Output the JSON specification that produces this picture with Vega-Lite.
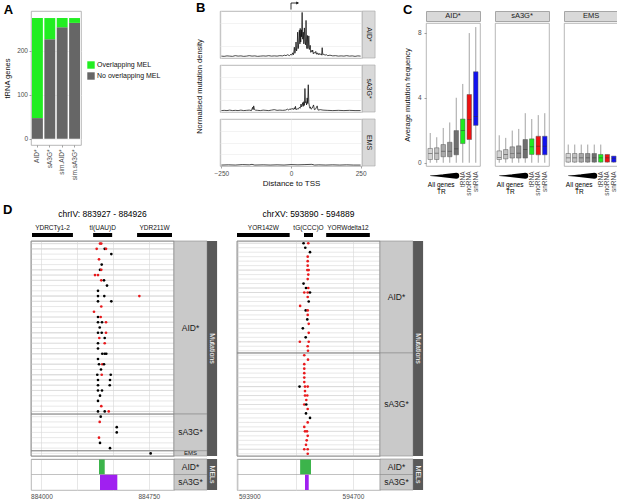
{
  "$schema": "https://vega.github.io/schema/vega-lite/v6.json",
  "description": "Multi-panel figure: tRNA genes overlapping MELs, mutation density around TSS, mutation frequency boxplots and two example loci.",
  "background": "white",
  "padding": {"left": 3, "top": 1, "right": 0, "bottom": 0},
  "config": {
    "font": "Liberation Sans",
    "view": {"stroke": "#a6a6a6", "strokeWidth": 0.8},
    "axis": {
      "labelFontSize": 6.5, "labelColor": "#4d4d4d", "titleFontSize": 7.5, "titleFontWeight": "normal",
      "titleColor": "#111111", "domain": false, "tickColor": "#666666", "tickSize": 2, "tickWidth": 0.6,
      "gridColor": "#ebebeb", "gridWidth": 0.6, "labelPadding": 1.5, "titlePadding": 2, "minExtent": 0
    },
    "title": {"fontSize": 13, "fontWeight": "bold", "anchor": "start", "frame": "bounds", "color": "#000000"},
    "legend": {"labelFontSize": 7, "labelColor": "#111111", "padding": 0}
  },
  "datasets": {
    "trna": [
      {"s": "AID*", "type": "No overlapping MEL", "n": 47},
      {"s": "AID*", "type": "Overlapping MEL", "n": 227},
      {"s": "sA3G*", "type": "No overlapping MEL", "n": 226},
      {"s": "sA3G*", "type": "Overlapping MEL", "n": 48},
      {"s": "sim.AID*", "type": "No overlapping MEL", "n": 253},
      {"s": "sim.AID*", "type": "Overlapping MEL", "n": 21},
      {"s": "sim.sA3G*", "type": "No overlapping MEL", "n": 263},
      {"s": "sim.sA3G*", "type": "Overlapping MEL", "n": 11}
    ],
    "density": [
      {"g": "AID*", "d": -250, "v": 0.04}, {"g": "AID*", "d": -240, "v": 0.035}, {"g": "AID*", "d": -230, "v": 0.045},
      {"g": "AID*", "d": -220, "v": 0.04}, {"g": "AID*", "d": -210, "v": 0.035}, {"g": "AID*", "d": -200, "v": 0.05},
      {"g": "AID*", "d": -190, "v": 0.04}, {"g": "AID*", "d": -180, "v": 0.045}, {"g": "AID*", "d": -170, "v": 0.035},
      {"g": "AID*", "d": -160, "v": 0.04}, {"g": "AID*", "d": -150, "v": 0.05}, {"g": "AID*", "d": -140, "v": 0.04},
      {"g": "AID*", "d": -130, "v": 0.045}, {"g": "AID*", "d": -120, "v": 0.035}, {"g": "AID*", "d": -110, "v": 0.04},
      {"g": "AID*", "d": -100, "v": 0.045}, {"g": "AID*", "d": -90, "v": 0.04}, {"g": "AID*", "d": -80, "v": 0.05},
      {"g": "AID*", "d": -70, "v": 0.04}, {"g": "AID*", "d": -60, "v": 0.045}, {"g": "AID*", "d": -50, "v": 0.04},
      {"g": "AID*", "d": -40, "v": 0.05}, {"g": "AID*", "d": -30, "v": 0.045}, {"g": "AID*", "d": -24, "v": 0.06},
      {"g": "AID*", "d": -18, "v": 0.05}, {"g": "AID*", "d": -12, "v": 0.07}, {"g": "AID*", "d": -6, "v": 0.05},
      {"g": "AID*", "d": 0, "v": 0.08}, {"g": "AID*", "d": 3, "v": 0.06}, {"g": "AID*", "d": 6, "v": 0.11},
      {"g": "AID*", "d": 9, "v": 0.07}, {"g": "AID*", "d": 12, "v": 0.23}, {"g": "AID*", "d": 14, "v": 0.1},
      {"g": "AID*", "d": 16, "v": 0.16}, {"g": "AID*", "d": 18, "v": 0.34}, {"g": "AID*", "d": 20, "v": 0.15},
      {"g": "AID*", "d": 22, "v": 0.22}, {"g": "AID*", "d": 24, "v": 0.55}, {"g": "AID*", "d": 26, "v": 0.2},
      {"g": "AID*", "d": 28, "v": 0.32}, {"g": "AID*", "d": 30, "v": 0.59}, {"g": "AID*", "d": 32, "v": 0.3},
      {"g": "AID*", "d": 33, "v": 0.63}, {"g": "AID*", "d": 35, "v": 0.34}, {"g": "AID*", "d": 37, "v": 0.6},
      {"g": "AID*", "d": 38, "v": 0.45}, {"g": "AID*", "d": 40, "v": 0.97}, {"g": "AID*", "d": 42, "v": 0.4},
      {"g": "AID*", "d": 44, "v": 0.55}, {"g": "AID*", "d": 46, "v": 0.3}, {"g": "AID*", "d": 48, "v": 0.64},
      {"g": "AID*", "d": 50, "v": 0.35}, {"g": "AID*", "d": 52, "v": 0.28}, {"g": "AID*", "d": 54, "v": 0.8},
      {"g": "AID*", "d": 56, "v": 0.3}, {"g": "AID*", "d": 57, "v": 0.2}, {"g": "AID*", "d": 59, "v": 0.48},
      {"g": "AID*", "d": 61, "v": 0.2}, {"g": "AID*", "d": 62, "v": 0.25}, {"g": "AID*", "d": 64, "v": 0.47},
      {"g": "AID*", "d": 66, "v": 0.18}, {"g": "AID*", "d": 68, "v": 0.22}, {"g": "AID*", "d": 69, "v": 0.27},
      {"g": "AID*", "d": 71, "v": 0.12}, {"g": "AID*", "d": 73, "v": 0.16}, {"g": "AID*", "d": 76, "v": 0.13},
      {"g": "AID*", "d": 78, "v": 0.17}, {"g": "AID*", "d": 80, "v": 0.09}, {"g": "AID*", "d": 83, "v": 0.12},
      {"g": "AID*", "d": 86, "v": 0.1}, {"g": "AID*", "d": 89, "v": 0.14}, {"g": "AID*", "d": 92, "v": 0.08},
      {"g": "AID*", "d": 95, "v": 0.11}, {"g": "AID*", "d": 98, "v": 0.07}, {"g": "AID*", "d": 101, "v": 0.1},
      {"g": "AID*", "d": 104, "v": 0.07}, {"g": "AID*", "d": 107, "v": 0.09}, {"g": "AID*", "d": 110, "v": 0.06},
      {"g": "AID*", "d": 112, "v": 0.22}, {"g": "AID*", "d": 114, "v": 0.07}, {"g": "AID*", "d": 118, "v": 0.08},
      {"g": "AID*", "d": 122, "v": 0.06}, {"g": "AID*", "d": 127, "v": 0.07}, {"g": "AID*", "d": 132, "v": 0.05},
      {"g": "AID*", "d": 140, "v": 0.06}, {"g": "AID*", "d": 150, "v": 0.045}, {"g": "AID*", "d": 160, "v": 0.05},
      {"g": "AID*", "d": 170, "v": 0.04}, {"g": "AID*", "d": 180, "v": 0.045}, {"g": "AID*", "d": 190, "v": 0.04},
      {"g": "AID*", "d": 200, "v": 0.05}, {"g": "AID*", "d": 210, "v": 0.04}, {"g": "AID*", "d": 220, "v": 0.045},
      {"g": "AID*", "d": 230, "v": 0.035}, {"g": "AID*", "d": 240, "v": 0.045}, {"g": "AID*", "d": 250, "v": 0.04},
      {"g": "sA3G*", "d": -250, "v": 0.03}, {"g": "sA3G*", "d": -240, "v": 0.035}, {"g": "sA3G*", "d": -230, "v": 0.03},
      {"g": "sA3G*", "d": -220, "v": 0.04}, {"g": "sA3G*", "d": -210, "v": 0.03}, {"g": "sA3G*", "d": -200, "v": 0.035},
      {"g": "sA3G*", "d": -190, "v": 0.03}, {"g": "sA3G*", "d": -180, "v": 0.04}, {"g": "sA3G*", "d": -170, "v": 0.03},
      {"g": "sA3G*", "d": -160, "v": 0.035}, {"g": "sA3G*", "d": -150, "v": 0.04}, {"g": "sA3G*", "d": -142, "v": 0.03},
      {"g": "sA3G*", "d": -138, "v": 0.1}, {"g": "sA3G*", "d": -136, "v": 0.05}, {"g": "sA3G*", "d": -134, "v": 0.13},
      {"g": "sA3G*", "d": -131, "v": 0.05}, {"g": "sA3G*", "d": -128, "v": 0.04}, {"g": "sA3G*", "d": -120, "v": 0.035},
      {"g": "sA3G*", "d": -110, "v": 0.03}, {"g": "sA3G*", "d": -100, "v": 0.04}, {"g": "sA3G*", "d": -90, "v": 0.035},
      {"g": "sA3G*", "d": -80, "v": 0.03}, {"g": "sA3G*", "d": -70, "v": 0.04}, {"g": "sA3G*", "d": -60, "v": 0.05},
      {"g": "sA3G*", "d": -50, "v": 0.035}, {"g": "sA3G*", "d": -40, "v": 0.04}, {"g": "sA3G*", "d": -30, "v": 0.035},
      {"g": "sA3G*", "d": -20, "v": 0.04}, {"g": "sA3G*", "d": -12, "v": 0.06}, {"g": "sA3G*", "d": -8, "v": 0.04},
      {"g": "sA3G*", "d": -4, "v": 0.07}, {"g": "sA3G*", "d": 0, "v": 0.05}, {"g": "sA3G*", "d": 4, "v": 0.08},
      {"g": "sA3G*", "d": 8, "v": 0.05}, {"g": "sA3G*", "d": 12, "v": 0.09}, {"g": "sA3G*", "d": 14, "v": 0.06},
      {"g": "sA3G*", "d": 16, "v": 0.12}, {"g": "sA3G*", "d": 18, "v": 0.05}, {"g": "sA3G*", "d": 22, "v": 0.07},
      {"g": "sA3G*", "d": 26, "v": 0.06}, {"g": "sA3G*", "d": 30, "v": 0.1}, {"g": "sA3G*", "d": 33, "v": 0.08},
      {"g": "sA3G*", "d": 36, "v": 0.17}, {"g": "sA3G*", "d": 38, "v": 0.11}, {"g": "sA3G*", "d": 40, "v": 0.14},
      {"g": "sA3G*", "d": 42, "v": 0.2}, {"g": "sA3G*", "d": 44, "v": 0.12}, {"g": "sA3G*", "d": 46, "v": 0.22},
      {"g": "sA3G*", "d": 48, "v": 0.14}, {"g": "sA3G*", "d": 50, "v": 0.5}, {"g": "sA3G*", "d": 52, "v": 0.2},
      {"g": "sA3G*", "d": 54, "v": 0.22}, {"g": "sA3G*", "d": 56, "v": 0.15}, {"g": "sA3G*", "d": 58, "v": 0.3},
      {"g": "sA3G*", "d": 60, "v": 0.18}, {"g": "sA3G*", "d": 62, "v": 0.58}, {"g": "sA3G*", "d": 64, "v": 0.2},
      {"g": "sA3G*", "d": 66, "v": 0.12}, {"g": "sA3G*", "d": 68, "v": 0.08}, {"g": "sA3G*", "d": 70, "v": 0.11},
      {"g": "sA3G*", "d": 72, "v": 0.06}, {"g": "sA3G*", "d": 76, "v": 0.08}, {"g": "sA3G*", "d": 81, "v": 0.15},
      {"g": "sA3G*", "d": 84, "v": 0.05}, {"g": "sA3G*", "d": 88, "v": 0.06}, {"g": "sA3G*", "d": 94, "v": 0.13},
      {"g": "sA3G*", "d": 97, "v": 0.04}, {"g": "sA3G*", "d": 105, "v": 0.05}, {"g": "sA3G*", "d": 115, "v": 0.04},
      {"g": "sA3G*", "d": 130, "v": 0.035}, {"g": "sA3G*", "d": 150, "v": 0.03}, {"g": "sA3G*", "d": 170, "v": 0.035},
      {"g": "sA3G*", "d": 190, "v": 0.03}, {"g": "sA3G*", "d": 210, "v": 0.035}, {"g": "sA3G*", "d": 230, "v": 0.03},
      {"g": "sA3G*", "d": 250, "v": 0.03},
      {"g": "EMS", "d": -250, "v": 0.02}, {"g": "EMS", "d": -225, "v": 0.025}, {"g": "EMS", "d": -200, "v": 0.02},
      {"g": "EMS", "d": -175, "v": 0.03}, {"g": "EMS", "d": -150, "v": 0.025}, {"g": "EMS", "d": -140, "v": 0.035},
      {"g": "EMS", "d": -130, "v": 0.02}, {"g": "EMS", "d": -100, "v": 0.025}, {"g": "EMS", "d": -75, "v": 0.02},
      {"g": "EMS", "d": -50, "v": 0.025}, {"g": "EMS", "d": -25, "v": 0.02}, {"g": "EMS", "d": 0, "v": 0.03},
      {"g": "EMS", "d": 25, "v": 0.025}, {"g": "EMS", "d": 50, "v": 0.03}, {"g": "EMS", "d": 75, "v": 0.035},
      {"g": "EMS", "d": 85, "v": 0.02}, {"g": "EMS", "d": 100, "v": 0.025}, {"g": "EMS", "d": 125, "v": 0.02},
      {"g": "EMS", "d": 150, "v": 0.025}, {"g": "EMS", "d": 175, "v": 0.02}, {"g": "EMS", "d": 200, "v": 0.025},
      {"g": "EMS", "d": 225, "v": 0.02}, {"g": "EMS", "d": 250, "v": 0.02}
    ],
    "box": [
      {"g": "AID*", "cat": "TR1", "lo": 0, "q1": 0.2, "med": 0.57, "q3": 0.88, "hi": 1.83},
      {"g": "AID*", "cat": "TR2", "lo": 0, "q1": 0.2, "med": 0.59, "q3": 0.92, "hi": 1.57},
      {"g": "AID*", "cat": "TR3", "lo": 0, "q1": 0.37, "med": 0.71, "q3": 1.12, "hi": 2.14},
      {"g": "AID*", "cat": "TR4", "lo": 0, "q1": 0.37, "med": 0.71, "q3": 1.26, "hi": 2.48},
      {"g": "AID*", "cat": "TR5", "lo": 0, "q1": 0.49, "med": 0.86, "q3": 1.98, "hi": 4.0},
      {"g": "AID*", "cat": "tRNA", "lo": 0, "q1": 1.18, "med": 1.98, "q3": 2.69, "hi": 4.85},
      {"g": "AID*", "cat": "snoRNA", "lo": 0, "q1": 1.43, "med": 2.65, "q3": 4.2, "hi": 7.98},
      {"g": "AID*", "cat": "snRNA", "lo": 0, "q1": 2.3, "med": 2.85, "q3": 5.6, "hi": 8.35},
      {"g": "sA3G*", "cat": "TR1", "lo": 0, "q1": 0.2, "med": 0.33, "q3": 0.73, "hi": 1.69},
      {"g": "sA3G*", "cat": "TR2", "lo": 0, "q1": 0.24, "med": 0.51, "q3": 0.81, "hi": 1.53},
      {"g": "sA3G*", "cat": "TR3", "lo": 0, "q1": 0.29, "med": 0.57, "q3": 0.98, "hi": 1.98},
      {"g": "sA3G*", "cat": "TR4", "lo": 0, "q1": 0.29, "med": 0.59, "q3": 1.04, "hi": 2.08},
      {"g": "sA3G*", "cat": "TR5", "lo": 0, "q1": 0.29, "med": 0.81, "q3": 1.43, "hi": 3.05},
      {"g": "sA3G*", "cat": "tRNA", "lo": 0, "q1": 0.51, "med": 0.98, "q3": 1.47, "hi": 2.69},
      {"g": "sA3G*", "cat": "snoRNA", "lo": 0, "q1": 0.49, "med": 1.02, "q3": 1.63, "hi": 2.93},
      {"g": "sA3G*", "cat": "snRNA", "lo": 0, "q1": 0.49, "med": 1.02, "q3": 1.63, "hi": 3.05},
      {"g": "EMS", "cat": "TR1", "lo": 0, "q1": 0.04, "med": 0.3, "q3": 0.57, "hi": 1.12},
      {"g": "EMS", "cat": "TR2", "lo": 0, "q1": 0.04, "med": 0.3, "q3": 0.57, "hi": 1.12},
      {"g": "EMS", "cat": "TR3", "lo": 0, "q1": 0.04, "med": 0.3, "q3": 0.57, "hi": 1.12},
      {"g": "EMS", "cat": "TR4", "lo": 0, "q1": 0.04, "med": 0.3, "q3": 0.57, "hi": 1.12},
      {"g": "EMS", "cat": "TR5", "lo": 0, "q1": 0.04, "med": 0.3, "q3": 0.57, "hi": 1.12},
      {"g": "EMS", "cat": "tRNA", "lo": 0, "q1": 0.04, "med": 0.3, "q3": 0.51, "hi": 1.12},
      {"g": "EMS", "cat": "snoRNA", "lo": 0, "q1": 0.04, "med": 0.3, "q3": 0.51, "hi": 0.51},
      {"g": "EMS", "cat": "snRNA", "lo": 0, "q1": 0.04, "med": 0.25, "q3": 0.41, "hi": 0.41}
    ],
    "wedge": [{"cat": "TR1"}, {"cat": "TR2"}, {"cat": "TR3"}, {"cat": "TR4"}, {"cat": "TR5"}],
    "genesL": [
      {"name": "YDRCTy1-2", "start": 883934, "end": 884220},
      {"name": "tI(UAU)D", "start": 884361, "end": 884494},
      {"name": "YDR211W", "start": 884668, "end": 884912}
    ],
    "genesR": [
      {"name": "YOR142W", "start": 593890, "end": 594258},
      {"name": "tG(CCC)O", "start": 594358, "end": 594421},
      {"name": "YORWdelta12", "start": 594513, "end": 594818}
    ],
    "melL": [
      {"g": "AID*", "start": 884402, "end": 884442},
      {"g": "sA3G*", "start": 884409, "end": 884530}
    ],
    "melR": [
      {"g": "AID*", "start": 594331, "end": 594407},
      {"g": "sA3G*", "start": 594365, "end": 594391}
    ],
    "mutL": [
      {"r": 1, "g": "AID*", "x": 884409, "m": "C>T"}, {"r": 1, "g": "AID*", "x": 884418, "m": "C>T"},
      {"r": 2, "g": "AID*", "x": 884386, "m": "C>T"}, {"r": 2, "g": "AID*", "x": 884442, "m": "G>A"}, {"r": 2, "g": "AID*", "x": 884451, "m": "C>T"},
      {"r": 3, "g": "AID*", "x": 884488, "m": "G>A"},
      {"r": 4, "g": "AID*", "x": 884402, "m": "C>T"},
      {"r": 5, "g": "AID*", "x": 884421, "m": "G>A"},
      {"r": 6, "g": "AID*", "x": 884409, "m": "G>A"}, {"r": 6, "g": "AID*", "x": 884418, "m": "C>T"},
      {"r": 7, "g": "AID*", "x": 884374, "m": "C>T"}, {"r": 7, "g": "AID*", "x": 884395, "m": "C>T"},
      {"r": 8, "g": "AID*", "x": 884418, "m": "C>T"}, {"r": 8, "g": "AID*", "x": 884437, "m": "G>A"},
      {"r": 9, "g": "AID*", "x": 884458, "m": "G>A"},
      {"r": 10, "g": "AID*", "x": 884395, "m": "G>A"},
      {"r": 11, "g": "AID*", "x": 884395, "m": "G>A"}, {"r": 11, "g": "AID*", "x": 884439, "m": "G>A"}, {"r": 11, "g": "AID*", "x": 884684, "m": "C>T"},
      {"r": 12, "g": "AID*", "x": 884395, "m": "G>A"}, {"r": 12, "g": "AID*", "x": 884488, "m": "G>A"},
      {"r": 13, "g": "AID*", "x": 884418, "m": "C>T"},
      {"r": 14, "g": "AID*", "x": 884367, "m": "C>T"},
      {"r": 15, "g": "AID*", "x": 884395, "m": "G>A"}, {"r": 15, "g": "AID*", "x": 884414, "m": "C>T"},
      {"r": 16, "g": "AID*", "x": 884395, "m": "G>A"}, {"r": 16, "g": "AID*", "x": 884423, "m": "G>A"}, {"r": 16, "g": "AID*", "x": 884451, "m": "C>T"},
      {"r": 17, "g": "AID*", "x": 884407, "m": "G>A"},
      {"r": 18, "g": "AID*", "x": 884395, "m": "G>A"}, {"r": 18, "g": "AID*", "x": 884421, "m": "G>A"}, {"r": 18, "g": "AID*", "x": 884451, "m": "C>T"},
      {"r": 19, "g": "AID*", "x": 884404, "m": "C>T"}, {"r": 19, "g": "AID*", "x": 884442, "m": "G>A"},
      {"r": 20, "g": "AID*", "x": 884395, "m": "G>A"}, {"r": 20, "g": "AID*", "x": 884442, "m": "C>T"},
      {"r": 21, "g": "AID*", "x": 884395, "m": "G>A"},
      {"r": 22, "g": "AID*", "x": 884425, "m": "G>A"}, {"r": 22, "g": "AID*", "x": 884442, "m": "G>A"}, {"r": 22, "g": "AID*", "x": 884453, "m": "G>A"},
      {"r": 23, "g": "AID*", "x": 884395, "m": "G>A"},
      {"r": 24, "g": "AID*", "x": 884402, "m": "G>A"}, {"r": 24, "g": "AID*", "x": 884425, "m": "C>T"}, {"r": 24, "g": "AID*", "x": 884437, "m": "G>A"},
      {"r": 25, "g": "AID*", "x": 884416, "m": "G>A"},
      {"r": 26, "g": "AID*", "x": 884390, "m": "G>A"}, {"r": 26, "g": "AID*", "x": 884421, "m": "C>T"}, {"r": 26, "g": "AID*", "x": 884484, "m": "G>A"},
      {"r": 27, "g": "AID*", "x": 884395, "m": "G>A"}, {"r": 27, "g": "AID*", "x": 884479, "m": "G>A"},
      {"r": 28, "g": "AID*", "x": 884395, "m": "G>A"}, {"r": 28, "g": "AID*", "x": 884477, "m": "G>A"},
      {"r": 29, "g": "AID*", "x": 884395, "m": "G>A"}, {"r": 29, "g": "AID*", "x": 884423, "m": "G>A"},
      {"r": 30, "g": "AID*", "x": 884409, "m": "G>A"},
      {"r": 31, "g": "AID*", "x": 884395, "m": "G>A"},
      {"r": 32, "g": "AID*", "x": 884418, "m": "C>T"},
      {"r": 33, "g": "AID*", "x": 884395, "m": "G>A"}, {"r": 33, "g": "AID*", "x": 884442, "m": "G>A"}, {"r": 33, "g": "AID*", "x": 884470, "m": "C>T"},
      {"r": 34, "g": "sA3G*", "x": 884414, "m": "G>A"},
      {"r": 35, "g": "sA3G*", "x": 884407, "m": "C>T"},
      {"r": 36, "g": "sA3G*", "x": 884526, "m": "G>A"},
      {"r": 37, "g": "sA3G*", "x": 884526, "m": "G>A"},
      {"r": 38, "g": "sA3G*", "x": 884402, "m": "C>T"},
      {"r": 39, "g": "sA3G*", "x": 884409, "m": "G>A"},
      {"r": 40, "g": "sA3G*", "x": 884479, "m": "G>A"},
      {"r": 41, "g": "EMS", "x": 884763, "m": "G>A"}
    ],
    "mutR": [
      {"r": 1, "g": "AID*", "x": 594355, "m": "G>A"}, {"r": 1, "g": "AID*", "x": 594388, "m": "C>T"},
      {"r": 2, "g": "AID*", "x": 594367, "m": "G>A"},
      {"r": 3, "g": "AID*", "x": 594400, "m": "G>A"},
      {"r": 4, "g": "AID*", "x": 594384, "m": "C>T"},
      {"r": 5, "g": "AID*", "x": 594384, "m": "C>T"},
      {"r": 6, "g": "AID*", "x": 594384, "m": "C>T"},
      {"r": 7, "g": "AID*", "x": 594381, "m": "C>T"}, {"r": 7, "g": "AID*", "x": 594391, "m": "C>T"},
      {"r": 8, "g": "AID*", "x": 594388, "m": "C>T"},
      {"r": 9, "g": "AID*", "x": 594384, "m": "C>T"},
      {"r": 10, "g": "AID*", "x": 594355, "m": "G>A"},
      {"r": 11, "g": "AID*", "x": 594372, "m": "G>A"}, {"r": 11, "g": "AID*", "x": 594388, "m": "C>T"},
      {"r": 12, "g": "AID*", "x": 594360, "m": "C>T"}, {"r": 12, "g": "AID*", "x": 594384, "m": "C>T"}, {"r": 12, "g": "AID*", "x": 594400, "m": "G>A"},
      {"r": 13, "g": "AID*", "x": 594384, "m": "C>T"},
      {"r": 14, "g": "AID*", "x": 594391, "m": "G>A"},
      {"r": 15, "g": "AID*", "x": 594331, "m": "C>T"},
      {"r": 16, "g": "AID*", "x": 594370, "m": "G>A"}, {"r": 16, "g": "AID*", "x": 594384, "m": "C>T"},
      {"r": 17, "g": "AID*", "x": 594384, "m": "C>T"},
      {"r": 18, "g": "AID*", "x": 594381, "m": "G>A"},
      {"r": 19, "g": "AID*", "x": 594391, "m": "C>T"},
      {"r": 20, "g": "AID*", "x": 594350, "m": "G>A"},
      {"r": 21, "g": "AID*", "x": 594391, "m": "C>T"},
      {"r": 22, "g": "AID*", "x": 594370, "m": "G>A"},
      {"r": 23, "g": "AID*", "x": 594329, "m": "C>T"}, {"r": 23, "g": "AID*", "x": 594391, "m": "C>T"},
      {"r": 24, "g": "AID*", "x": 594384, "m": "C>T"},
      {"r": 25, "g": "AID*", "x": 594386, "m": "C>T"},
      {"r": 26, "g": "sA3G*", "x": 594360, "m": "C>T"},
      {"r": 27, "g": "sA3G*", "x": 594386, "m": "C>T"},
      {"r": 28, "g": "sA3G*", "x": 594360, "m": "C>T"},
      {"r": 29, "g": "sA3G*", "x": 594360, "m": "C>T"},
      {"r": 30, "g": "sA3G*", "x": 594360, "m": "C>T"},
      {"r": 31, "g": "sA3G*", "x": 594360, "m": "C>T"},
      {"r": 32, "g": "sA3G*", "x": 594360, "m": "C>T"},
      {"r": 33, "g": "sA3G*", "x": 594327, "m": "G>A"}, {"r": 33, "g": "sA3G*", "x": 594365, "m": "C>T"}, {"r": 33, "g": "sA3G*", "x": 594384, "m": "C>T"},
      {"r": 34, "g": "sA3G*", "x": 594365, "m": "C>T"},
      {"r": 35, "g": "sA3G*", "x": 594365, "m": "C>T"}, {"r": 35, "g": "sA3G*", "x": 594381, "m": "C>T"},
      {"r": 36, "g": "sA3G*", "x": 594374, "m": "C>T"},
      {"r": 37, "g": "sA3G*", "x": 594360, "m": "C>T"}, {"r": 37, "g": "sA3G*", "x": 594374, "m": "G>A"},
      {"r": 38, "g": "sA3G*", "x": 594384, "m": "C>T"},
      {"r": 39, "g": "sA3G*", "x": 594372, "m": "G>A"},
      {"r": 40, "g": "sA3G*", "x": 594400, "m": "G>A"},
      {"r": 41, "g": "sA3G*", "x": 594384, "m": "C>T"},
      {"r": 42, "g": "sA3G*", "x": 594360, "m": "C>T"},
      {"r": 43, "g": "sA3G*", "x": 594365, "m": "C>T"}, {"r": 43, "g": "sA3G*", "x": 594379, "m": "C>T"},
      {"r": 44, "g": "sA3G*", "x": 594384, "m": "C>T"},
      {"r": 45, "g": "sA3G*", "x": 594377, "m": "C>T"},
      {"r": 46, "g": "sA3G*", "x": 594372, "m": "C>T"},
      {"r": 47, "g": "sA3G*", "x": 594360, "m": "C>T"}, {"r": 47, "g": "sA3G*", "x": 594384, "m": "C>T"},
      {"r": 48, "g": "sA3G*", "x": 594384, "m": "C>T"}
    ]
  },
  "vconcat": [
    {
      "hconcat": [
        {
          "title": {"text": "A", "offset": -6},
          "width": 50,
          "height": 134,
          "data": {"name": "trna"},
          "mark": {"type": "bar"},
          "encoding": {
            "x": {"field": "s", "type": "nominal", "sort": ["AID*", "sA3G*", "sim.AID*", "sim.sA3G*"],
                  "scale": {"paddingInner": 0.12, "paddingOuter": 0.08},
                  "axis": {"title": null, "labelAngle": -90, "labelPadding": 2, "grid": false}},
            "y": {"field": "n", "type": "quantitative", "stack": "zero",
                  "scale": {"domain": [-14, 290], "nice": false, "zero": false},
                  "axis": {"title": "tRNA genes", "values": [0, 100, 200], "titlePadding": 5}},
            "color": {"field": "type", "type": "nominal",
                      "scale": {"domain": ["Overlapping MEL", "No overlapping MEL"], "range": ["#22ee22", "#666666"]},
                      "legend": {"title": null, "orient": "none", "legendX": 56, "legendY": 50, "symbolType": "square",
                                 "symbolSize": 55, "symbolStrokeWidth": 0, "rowPadding": 3, "labelOffset": 2}},
            "order": {"field": "type", "sort": "ascending"}
          }
        },
        {
          "hconcat": [
            {
              "title": {"text": "B", "offset": -14},
              "hconcat": [
                {
                  "width": 8,
                  "height": 151,
                  "view": {"stroke": null},
                  "data": {"values": [{"t": "Normalised mutation density"}]},
                  "mark": {"type": "text", "angle": 270, "fontSize": 7.5, "color": "#111111"},
                  "encoding": {"text": {"field": "t"}}
                },
                {
                  "spacing": 5,
                  "vconcat": [
                    {
                      "width": 142,
                      "height": 47,
                      "layer": [
                        {
                          "data": {"name": "density"},
                          "transform": [{"filter": "datum.g == 'AID*'"}],
                          "mark": {"type": "line", "color": "#000000", "strokeWidth": 0.7},
                          "encoding": {
                            "x": {"field": "d", "type": "quantitative", "scale": {"domain": [-255, 255], "nice": false, "zero": false},
                                  "axis": {"values": [-250, 0, 250], "labels": false, "ticks": false, "title": null}},
                            "y": {"field": "v", "type": "quantitative", "scale": {"domain": [0, 1], "nice": false, "zero": false},
                                  "axis": {"values": [0.25, 0.5, 0.75], "labels": false, "ticks": false, "title": null}}
                          }
                        },
                        {
                          "data": {"values": [{"lab": "AID*"}]},
                          "layer": [
                            {"mark": {"type": "rect", "fill": "#d9d9d9", "stroke": "#a6a6a6", "strokeWidth": 0.6},
                             "encoding": {"x": {"datum": 256}, "x2": {"datum": 302}}},
                            {"mark": {"type": "text", "angle": 90, "fontSize": 7, "color": "#1a1a1a"},
                             "encoding": {"x": {"datum": 279}, "text": {"field": "lab"}}}
                          ]
                        },
                        {
                          "data": {"values": [{"tss": 0}]},
                          "layer": [
                            {"mark": {"type": "rule", "color": "#000000", "strokeWidth": 0.8},
                             "encoding": {"x": {"datum": 0}, "y": {"datum": 1.03}, "y2": {"datum": 1.17}}},
                            {"mark": {"type": "rule", "color": "#000000", "strokeWidth": 0.8},
                             "encoding": {"x": {"datum": 0}, "x2": {"datum": 22}, "y": {"datum": 1.17}}},
                            {"mark": {"type": "point", "shape": "triangle-right", "filled": true, "color": "#000000", "size": 10, "opacity": 1},
                             "encoding": {"x": {"datum": 24}, "y": {"datum": 1.17}}}
                          ]
                        }
                      ]
                    },
                    {
                      "width": 142,
                      "height": 47,
                      "layer": [
                        {
                          "data": {"name": "density"},
                          "transform": [{"filter": "datum.g == 'sA3G*'"}],
                          "mark": {"type": "line", "color": "#000000", "strokeWidth": 0.7},
                          "encoding": {
                            "x": {"field": "d", "type": "quantitative", "scale": {"domain": [-255, 255], "nice": false, "zero": false},
                                  "axis": {"values": [-250, 0, 250], "labels": false, "ticks": false, "title": null}},
                            "y": {"field": "v", "type": "quantitative", "scale": {"domain": [0, 1], "nice": false, "zero": false},
                                  "axis": {"values": [0.25, 0.5, 0.75], "labels": false, "ticks": false, "title": null}}
                          }
                        },
                        {
                          "data": {"values": [{"lab": "sA3G*"}]},
                          "layer": [
                            {"mark": {"type": "rect", "fill": "#d9d9d9", "stroke": "#a6a6a6", "strokeWidth": 0.6},
                             "encoding": {"x": {"datum": 256}, "x2": {"datum": 302}}},
                            {"mark": {"type": "text", "angle": 90, "fontSize": 7, "color": "#1a1a1a"},
                             "encoding": {"x": {"datum": 279}, "text": {"field": "lab"}}}
                          ]
                        }
                      ]
                    },
                    {
                      "width": 142,
                      "height": 47,
                      "layer": [
                        {
                          "data": {"name": "density"},
                          "transform": [{"filter": "datum.g == 'EMS'"}],
                          "mark": {"type": "line", "color": "#000000", "strokeWidth": 0.7},
                          "encoding": {
                            "x": {"field": "d", "type": "quantitative", "scale": {"domain": [-255, 255], "nice": false, "zero": false},
                                  "axis": {"values": [-250, 0, 250], "labels": true, "ticks": true, "title": "Distance to TSS", "titleFontSize": 8, "labelPadding": 2, "titlePadding": 3}},
                            "y": {"field": "v", "type": "quantitative", "scale": {"domain": [0, 1], "nice": false, "zero": false},
                                  "axis": {"values": [0.25, 0.5, 0.75], "labels": false, "ticks": false, "title": null}}
                          }
                        },
                        {
                          "data": {"values": [{"lab": "EMS"}]},
                          "layer": [
                            {"mark": {"type": "rect", "fill": "#d9d9d9", "stroke": "#a6a6a6", "strokeWidth": 0.6},
                             "encoding": {"x": {"datum": 256}, "x2": {"datum": 302}}},
                            {"mark": {"type": "text", "angle": 90, "fontSize": 7, "color": "#1a1a1a"},
                             "encoding": {"x": {"datum": 279}, "text": {"field": "lab"}}}
                          ]
                        }
                      ]
                    }
                  ]
                }
              ],
              "spacing": 9
            },
            {
              "title": {"text": "C", "offset": -6},
              "spacing": 13,
              "hconcat": [
                {
                  "spacing": 0,
                  "vconcat": [
                    {
                      "width": 54, "height": 10,
                      "view": {"fill": "#d9d9d9", "stroke": "#a6a6a6"},
                      "data": {"values": [{"lab": "AID*"}]},
                      "mark": {"type": "text", "fontSize": 7.5, "color": "#1a1a1a"},
                      "encoding": {"text": {"field": "lab"}}
                    },
                    {
                      "width": 54,
                      "height": 143,
                      "layer": [
                        {
                          "data": {"name": "box"},
                          "transform": [{"filter": "datum.g == 'AID*'"}],
                          "layer": [
                            {"mark": {"type": "rule", "color": "#999999", "strokeWidth": 0.9},
                             "encoding": {
                               "x": {"field": "cat", "type": "nominal", "scale": {"domain": ["TR1", "TR2", "TR3", "TR4", "TR5", "tRNA", "snoRNA", "snRNA"], "paddingInner": 0.3, "paddingOuter": 0.3},
                                     "axis": {"title": null, "labelAngle": -90, "ticks": false, "labelPadding": 5, "grid": false,
                                              "labelExpr": "indexof(['tRNA','snoRNA','snRNA'], datum.value) >= 0 ? datum.value : ''"}},
                               "y": {"field": "lo", "type": "quantitative", "scale": {"domain": [-0.2, 8.6], "nice": false, "zero": false},
                                     "axis": {"title": "Average mutation frequency", "values": [0, 2, 4, 6, 8], "grid": false, "labelPadding": 3, "titlePadding": 6}},
                               "y2": {"field": "hi"}
                             }},
                            {"mark": {"type": "bar", "stroke": "#5a5a5a", "strokeWidth": 0.5},
                             "encoding": {
                               "x": {"field": "cat", "type": "nominal"},
                               "y": {"field": "q1", "type": "quantitative"},
                               "y2": {"field": "q3"},
                               "fill": {"condition": [
                                 {"test": "datum.cat == 'TR1'", "value": "#d4d4d4"},
                                 {"test": "datum.cat == 'TR2'", "value": "#c0c0c0"},
                                 {"test": "datum.cat == 'TR3'", "value": "#a8a8a8"},
                                 {"test": "datum.cat == 'TR4'", "value": "#8f8f8f"},
                                 {"test": "datum.cat == 'TR5'", "value": "#6e6e6e"},
                                 {"test": "datum.cat == 'tRNA'", "value": "#1eea1e"},
                                 {"test": "datum.cat == 'snoRNA'", "value": "#ee1111"}], "value": "#1111ee"}
                             }},
                            {"mark": {"type": "tick", "color": "#333333", "thickness": 0.7, "size": 4},
                             "encoding": {"x": {"field": "cat", "type": "nominal"}, "y": {"field": "med", "type": "quantitative"}}}
                          ]
                        },
                        {
                          "data": {"name": "wedge"},
                          "mark": {"type": "trail", "color": "#000000"},
                          "encoding": {
                            "x": {"field": "cat", "type": "nominal"},
                            "y": {"datum": -0.8},
                            "size": {"field": "cat", "type": "ordinal", "scale": {"domain": ["TR1", "TR2", "TR3", "TR4", "TR5"], "range": [0.3, 6]}, "legend": null}
                          }
                        },
                        {
                          "data": {"values": [{"t": "All genes", "u": "TR"}]},
                          "layer": [
                            {"mark": {"type": "text", "fontSize": 6.5, "dx": -2}, "encoding": {"x": {"datum": "TR3"}, "y": {"datum": -1.35}, "text": {"field": "t"}}},
                            {"mark": {"type": "text", "fontSize": 6.5, "dx": -2}, "encoding": {"x": {"datum": "TR3"}, "y": {"datum": -1.78}, "text": {"field": "u"}}}
                          ]
                        }
                      ]
                    }
                  ]
                },
                {
                  "spacing": 0,
                  "vconcat": [
                    {
                      "width": 54, "height": 10,
                      "view": {"fill": "#d9d9d9", "stroke": "#a6a6a6"},
                      "data": {"values": [{"lab": "sA3G*"}]},
                      "mark": {"type": "text", "fontSize": 7.5, "color": "#1a1a1a"},
                      "encoding": {"text": {"field": "lab"}}
                    },
                    {
                      "width": 54,
                      "height": 143,
                      "layer": [
                        {
                          "data": {"name": "box"},
                          "transform": [{"filter": "datum.g == 'sA3G*'"}],
                          "layer": [
                            {"mark": {"type": "rule", "color": "#999999", "strokeWidth": 0.9},
                             "encoding": {
                               "x": {"field": "cat", "type": "nominal", "scale": {"domain": ["TR1", "TR2", "TR3", "TR4", "TR5", "tRNA", "snoRNA", "snRNA"], "paddingInner": 0.3, "paddingOuter": 0.3},
                                     "axis": {"title": null, "labelAngle": -90, "ticks": false, "labelPadding": 5, "grid": false,
                                              "labelExpr": "indexof(['tRNA','snoRNA','snRNA'], datum.value) >= 0 ? datum.value : ''"}},
                               "y": {"field": "lo", "type": "quantitative", "scale": {"domain": [-0.2, 8.6], "nice": false, "zero": false}, "axis": null},
                               "y2": {"field": "hi"}
                             }},
                            {"mark": {"type": "bar", "stroke": "#5a5a5a", "strokeWidth": 0.5},
                             "encoding": {
                               "x": {"field": "cat", "type": "nominal"},
                               "y": {"field": "q1", "type": "quantitative", "axis": null},
                               "y2": {"field": "q3"},
                               "fill": {"condition": [
                                 {"test": "datum.cat == 'TR1'", "value": "#d4d4d4"},
                                 {"test": "datum.cat == 'TR2'", "value": "#c0c0c0"},
                                 {"test": "datum.cat == 'TR3'", "value": "#a8a8a8"},
                                 {"test": "datum.cat == 'TR4'", "value": "#8f8f8f"},
                                 {"test": "datum.cat == 'TR5'", "value": "#6e6e6e"},
                                 {"test": "datum.cat == 'tRNA'", "value": "#1eea1e"},
                                 {"test": "datum.cat == 'snoRNA'", "value": "#ee1111"}], "value": "#1111ee"}
                             }},
                            {"mark": {"type": "tick", "color": "#333333", "thickness": 0.7, "size": 4},
                             "encoding": {"x": {"field": "cat", "type": "nominal"}, "y": {"field": "med", "type": "quantitative", "axis": null}}}
                          ]
                        },
                        {
                          "data": {"name": "wedge"},
                          "mark": {"type": "trail", "color": "#000000"},
                          "encoding": {
                            "x": {"field": "cat", "type": "nominal"},
                            "y": {"datum": -0.8, "axis": null},
                            "size": {"field": "cat", "type": "ordinal", "scale": {"domain": ["TR1", "TR2", "TR3", "TR4", "TR5"], "range": [0.3, 6]}, "legend": null}
                          }
                        },
                        {
                          "data": {"values": [{"t": "All genes", "u": "TR"}]},
                          "layer": [
                            {"mark": {"type": "text", "fontSize": 6.5, "dx": -2}, "encoding": {"x": {"datum": "TR3"}, "y": {"datum": -1.35, "axis": null}, "text": {"field": "t"}}},
                            {"mark": {"type": "text", "fontSize": 6.5, "dx": -2}, "encoding": {"x": {"datum": "TR3"}, "y": {"datum": -1.78, "axis": null}, "text": {"field": "u"}}}
                          ]
                        }
                      ]
                    }
                  ]
                },
                {
                  "spacing": 0,
                  "vconcat": [
                    {
                      "width": 54, "height": 10,
                      "view": {"fill": "#d9d9d9", "stroke": "#a6a6a6"},
                      "data": {"values": [{"lab": "EMS"}]},
                      "mark": {"type": "text", "fontSize": 7.5, "color": "#1a1a1a"},
                      "encoding": {"text": {"field": "lab"}}
                    },
                    {
                      "width": 54,
                      "height": 143,
                      "layer": [
                        {
                          "data": {"name": "box"},
                          "transform": [{"filter": "datum.g == 'EMS'"}],
                          "layer": [
                            {"mark": {"type": "rule", "color": "#999999", "strokeWidth": 0.9},
                             "encoding": {
                               "x": {"field": "cat", "type": "nominal", "scale": {"domain": ["TR1", "TR2", "TR3", "TR4", "TR5", "tRNA", "snoRNA", "snRNA"], "paddingInner": 0.3, "paddingOuter": 0.3},
                                     "axis": {"title": null, "labelAngle": -90, "ticks": false, "labelPadding": 5, "grid": false,
                                              "labelExpr": "indexof(['tRNA','snoRNA','snRNA'], datum.value) >= 0 ? datum.value : ''"}},
                               "y": {"field": "lo", "type": "quantitative", "scale": {"domain": [-0.2, 8.6], "nice": false, "zero": false}, "axis": null},
                               "y2": {"field": "hi"}
                             }},
                            {"mark": {"type": "bar", "stroke": "#5a5a5a", "strokeWidth": 0.5},
                             "encoding": {
                               "x": {"field": "cat", "type": "nominal"},
                               "y": {"field": "q1", "type": "quantitative", "axis": null},
                               "y2": {"field": "q3"},
                               "fill": {"condition": [
                                 {"test": "datum.cat == 'TR1'", "value": "#d4d4d4"},
                                 {"test": "datum.cat == 'TR2'", "value": "#c0c0c0"},
                                 {"test": "datum.cat == 'TR3'", "value": "#a8a8a8"},
                                 {"test": "datum.cat == 'TR4'", "value": "#8f8f8f"},
                                 {"test": "datum.cat == 'TR5'", "value": "#6e6e6e"},
                                 {"test": "datum.cat == 'tRNA'", "value": "#1eea1e"},
                                 {"test": "datum.cat == 'snoRNA'", "value": "#ee1111"}], "value": "#1111ee"}
                             }},
                            {"mark": {"type": "tick", "color": "#333333", "thickness": 0.7, "size": 4},
                             "encoding": {"x": {"field": "cat", "type": "nominal"}, "y": {"field": "med", "type": "quantitative", "axis": null}}}
                          ]
                        },
                        {
                          "data": {"name": "wedge"},
                          "mark": {"type": "trail", "color": "#000000"},
                          "encoding": {
                            "x": {"field": "cat", "type": "nominal"},
                            "y": {"datum": -0.8, "axis": null},
                            "size": {"field": "cat", "type": "ordinal", "scale": {"domain": ["TR1", "TR2", "TR3", "TR4", "TR5"], "range": [0.3, 6]}, "legend": null}
                          }
                        },
                        {
                          "data": {"values": [{"t": "All genes", "u": "TR"}]},
                          "layer": [
                            {"mark": {"type": "text", "fontSize": 6.5, "dx": -2}, "encoding": {"x": {"datum": "TR3"}, "y": {"datum": -1.35, "axis": null}, "text": {"field": "t"}}},
                            {"mark": {"type": "text", "fontSize": 6.5, "dx": -2}, "encoding": {"x": {"datum": "TR3"}, "y": {"datum": -1.78, "axis": null}, "text": {"field": "u"}}}
                          ]
                        }
                      ]
                    }
                  ]
                }
              ]
            }
          ],
          "spacing": 26
        }
      ],
      "spacing": 113
    },
    {
      "hconcat": [
        {
          "title": {"text": "D", "anchor": "start", "frame": "group", "dx": -28, "offset": -7},
          "spacing": 3,
          "vconcat": [
            {
              "title": {"text": "chrIV: 883927 - 884926", "anchor": "middle", "frame": "group", "fontSize": 8.5, "fontWeight": "normal", "offset": 7},
              "width": 143,
              "height": 4,
              "view": {"stroke": null},
              "data": {"name": "genesL"},
              "transform": [{"calculate": "(datum.start + datum.end) / 2", "as": "mid"}],
              "layer": [
                {"mark": {"type": "rect", "color": "#000000"},
                 "encoding": {"x": {"field": "start", "type": "quantitative", "scale": {"domain": [883927, 884926], "nice": false, "zero": false}, "axis": null}, "x2": {"field": "end"}}},
                {"mark": {"type": "text", "fontSize": 6.5, "baseline": "bottom", "dy": -4, "color": "#111111"},
                 "encoding": {"x": {"field": "mid", "type": "quantitative", "scale": {"domain": [883927, 884926], "nice": false, "zero": false}, "axis": null}, "text": {"field": "name"}}}
              ]
            },
            {
              "spacing": 1,
              "vconcat": [
                {
                  "width": 143,
                  "height": 215,
                  "data": {"name": "mutL"},
                  "layer": [
                    {"mark": {"type": "rule", "color": "#d9d9d9", "strokeWidth": 0.6},
                     "encoding": {"y": {"field": "r", "type": "quantitative", "scale": {"domain": [0.5, 41.5], "nice": false, "zero": false, "reverse": true}, "axis": null}}},
                    {"mark": {"type": "circle", "size": 7, "opacity": 1},
                     "encoding": {
                       "x": {"field": "x", "type": "quantitative", "scale": {"domain": [883927, 884926], "nice": false, "zero": false},
                             "axis": {"values": [884000, 884250, 884500, 884750], "labels": false, "ticks": false, "title": null, "gridColor": "#dcdcdc", "gridWidth": 0.7}},
                       "y": {"field": "r", "type": "quantitative", "scale": {"domain": [0.5, 41.5], "nice": false, "zero": false, "reverse": true}, "axis": null},
                       "color": {"condition": {"test": "datum.m == 'C>T'", "value": "#e8191c"}, "value": "#000000"}
                     }},
                    {
                      "transform": [
                        {"aggregate": [{"op": "min", "field": "r", "as": "r0"}, {"op": "max", "field": "r", "as": "r1"}], "groupby": ["g"]},
                        {"calculate": "datum.r0 - 0.5", "as": "lo"},
                        {"calculate": "datum.r1 + 0.5", "as": "hi"},
                        {"calculate": "(datum.r0 + datum.r1) / 2", "as": "mid"}
                      ],
                      "layer": [
                        {"mark": {"type": "rect", "filled": false, "color": "#8c8c8c", "strokeWidth": 0.8},
                         "encoding": {"y": {"field": "lo", "type": "quantitative", "axis": null}, "y2": {"field": "hi"}}},
                        {"mark": {"type": "rect", "fill": "#c9c9c9", "stroke": "#8c8c8c", "strokeWidth": 0.6},
                         "encoding": {"x": {"datum": 884926}, "x2": {"datum": 885157},
                                      "y": {"field": "lo", "type": "quantitative", "axis": null}, "y2": {"field": "hi"}}},
                        {"mark": {"type": "text", "color": "#1a1a1a"},
                         "encoding": {"x": {"datum": 885041}, "y": {"field": "mid", "type": "quantitative", "axis": null},
                                      "text": {"field": "g"}, "size": {"condition": {"test": "datum.g == 'EMS'", "value": 6}, "value": 8.5}}}
                      ]
                    },
                    {
                      "data": {"values": [{"t": "Mutations"}]},
                      "layer": [
                        {"mark": {"type": "rect", "fill": "#595959"},
                         "encoding": {"x": {"datum": 885157}, "x2": {"datum": 885227}}},
                        {"mark": {"type": "text", "angle": 90, "color": "#ffffff", "fontSize": 7},
                         "encoding": {"x": {"datum": 885192}, "text": {"field": "t"}}}
                      ]
                    }
                  ]
                },
                {
                  "width": 143,
                  "height": 31,
                  "layer": [
                    {"data": {"name": "melL"},
                     "mark": {"type": "rect"},
                     "encoding": {
                       "x": {"field": "start", "type": "quantitative", "scale": {"domain": [883927, 884926], "nice": false, "zero": false},
                             "axis": {"values": [884000, 884250, 884500, 884750], "format": "d", "title": null, "ticks": false, "labelPadding": 3, "labelFlush": 5, "gridColor": "#dcdcdc", "gridWidth": 0.7,
                                      "labelExpr": "datum.value == 884000 || datum.value == 884750 ? datum.label : ''"}},
                       "x2": {"field": "end"},
                       "y": {"field": "g", "type": "nominal", "scale": {"domain": ["AID*", "sA3G*"], "paddingInner": 0, "paddingOuter": 0},
                             "axis": {"labels": false, "ticks": false, "title": null, "grid": true, "bandPosition": 0, "gridColor": "#999999"}},
                       "color": {"condition": {"test": "datum.g == 'AID*'", "value": "#3cb44b"}, "value": "#a020f0"}
                     }},
                    {"data": {"values": [{"g": "AID*"}, {"g": "sA3G*"}]},
                     "layer": [
                       {"mark": {"type": "rect", "fill": "#c9c9c9", "stroke": "#8c8c8c", "strokeWidth": 0.6},
                        "encoding": {"x": {"datum": 884926}, "x2": {"datum": 885157}, "y": {"field": "g", "type": "nominal", "axis": {"title": null}}}},
                       {"mark": {"type": "text", "fontSize": 8.5, "color": "#1a1a1a"},
                        "encoding": {"x": {"datum": 885041}, "y": {"field": "g", "type": "nominal", "axis": {"title": null}}, "text": {"field": "g"}}}
                     ]},
                    {"data": {"values": [{"t": "MELs"}]},
                     "layer": [
                       {"mark": {"type": "rect", "fill": "#595959"},
                        "encoding": {"x": {"datum": 885157}, "x2": {"datum": 885227}}},
                       {"mark": {"type": "text", "angle": 90, "color": "#ffffff", "fontSize": 7},
                        "encoding": {"x": {"datum": 885192}, "text": {"field": "t"}}}
                     ]}
                  ]
                }
              ]
            }
          ]
        },
        {
          "spacing": 3,
          "vconcat": [
            {
              "title": {"text": "chrXV: 593890 - 594889", "anchor": "middle", "frame": "group", "fontSize": 8.5, "fontWeight": "normal", "offset": 7},
              "width": 143,
              "height": 4,
              "view": {"stroke": null},
              "data": {"name": "genesR"},
              "transform": [{"calculate": "(datum.start + datum.end) / 2", "as": "mid"}],
              "layer": [
                {"mark": {"type": "rect", "color": "#000000"},
                 "encoding": {"x": {"field": "start", "type": "quantitative", "scale": {"domain": [593890, 594889], "nice": false, "zero": false}, "axis": null}, "x2": {"field": "end"}}},
                {"mark": {"type": "text", "fontSize": 6.5, "baseline": "bottom", "dy": -4, "color": "#111111"},
                 "encoding": {"x": {"field": "mid", "type": "quantitative", "scale": {"domain": [593890, 594889], "nice": false, "zero": false}, "axis": null}, "text": {"field": "name"}}}
              ]
            },
            {
              "spacing": 1,
              "vconcat": [
                {
                  "width": 143,
                  "height": 215,
                  "data": {"name": "mutR"},
                  "layer": [
                    {"mark": {"type": "rule", "color": "#d9d9d9", "strokeWidth": 0.6},
                     "encoding": {"y": {"field": "r", "type": "quantitative", "scale": {"domain": [0.5, 48.5], "nice": false, "zero": false, "reverse": true}, "axis": null}}},
                    {"mark": {"type": "circle", "size": 7, "opacity": 1},
                     "encoding": {
                       "x": {"field": "x", "type": "quantitative", "scale": {"domain": [593890, 594889], "nice": false, "zero": false},
                             "axis": {"values": [593900, 594100, 594300, 594500, 594700], "labels": false, "ticks": false, "title": null, "gridColor": "#dcdcdc", "gridWidth": 0.7}},
                       "y": {"field": "r", "type": "quantitative", "scale": {"domain": [0.5, 48.5], "nice": false, "zero": false, "reverse": true}, "axis": null},
                       "color": {"condition": {"test": "datum.m == 'C>T'", "value": "#e8191c"}, "value": "#000000"}
                     }},
                    {
                      "transform": [
                        {"aggregate": [{"op": "min", "field": "r", "as": "r0"}, {"op": "max", "field": "r", "as": "r1"}], "groupby": ["g"]},
                        {"calculate": "datum.r0 - 0.5", "as": "lo"},
                        {"calculate": "datum.r1 + 0.5", "as": "hi"},
                        {"calculate": "(datum.r0 + datum.r1) / 2", "as": "mid"}
                      ],
                      "layer": [
                        {"mark": {"type": "rect", "filled": false, "color": "#8c8c8c", "strokeWidth": 0.8},
                         "encoding": {"y": {"field": "lo", "type": "quantitative", "axis": null}, "y2": {"field": "hi"}}},
                        {"mark": {"type": "rect", "fill": "#c9c9c9", "stroke": "#8c8c8c", "strokeWidth": 0.6},
                         "encoding": {"x": {"datum": 594889}, "x2": {"datum": 595120},
                                      "y": {"field": "lo", "type": "quantitative", "axis": null}, "y2": {"field": "hi"}}},
                        {"mark": {"type": "text", "color": "#1a1a1a", "fontSize": 8.5},
                         "encoding": {"x": {"datum": 595004}, "y": {"field": "mid", "type": "quantitative", "axis": null},
                                      "text": {"field": "g"}}}
                      ]
                    },
                    {
                      "data": {"values": [{"t": "Mutations"}]},
                      "layer": [
                        {"mark": {"type": "rect", "fill": "#595959"},
                         "encoding": {"x": {"datum": 595120}, "x2": {"datum": 595190}}},
                        {"mark": {"type": "text", "angle": 90, "color": "#ffffff", "fontSize": 7},
                         "encoding": {"x": {"datum": 595155}, "text": {"field": "t"}}}
                      ]
                    }
                  ]
                },
                {
                  "width": 143,
                  "height": 31,
                  "layer": [
                    {"data": {"name": "melR"},
                     "mark": {"type": "rect"},
                     "encoding": {
                       "x": {"field": "start", "type": "quantitative", "scale": {"domain": [593890, 594889], "nice": false, "zero": false},
                             "axis": {"values": [593900, 594100, 594300, 594500, 594700], "format": "d", "title": null, "ticks": false, "labelPadding": 3, "labelFlush": 5, "gridColor": "#dcdcdc", "gridWidth": 0.7,
                                      "labelExpr": "datum.value == 593900 || datum.value == 594700 ? datum.label : ''"}},
                       "x2": {"field": "end"},
                       "y": {"field": "g", "type": "nominal", "scale": {"domain": ["AID*", "sA3G*"], "paddingInner": 0, "paddingOuter": 0},
                             "axis": {"labels": false, "ticks": false, "title": null, "grid": true, "bandPosition": 0, "gridColor": "#999999"}},
                       "color": {"condition": {"test": "datum.g == 'AID*'", "value": "#3cb44b"}, "value": "#a020f0"}
                     }},
                    {"data": {"values": [{"g": "AID*"}, {"g": "sA3G*"}]},
                     "layer": [
                       {"mark": {"type": "rect", "fill": "#c9c9c9", "stroke": "#8c8c8c", "strokeWidth": 0.6},
                        "encoding": {"x": {"datum": 594889}, "x2": {"datum": 595120}, "y": {"field": "g", "type": "nominal", "axis": {"title": null}}}},
                       {"mark": {"type": "text", "fontSize": 8.5, "color": "#1a1a1a"},
                        "encoding": {"x": {"datum": 595004}, "y": {"field": "g", "type": "nominal", "axis": {"title": null}}, "text": {"field": "g"}}}
                     ]},
                    {"data": {"values": [{"t": "MELs"}]},
                     "layer": [
                       {"mark": {"type": "rect", "fill": "#595959"},
                        "encoding": {"x": {"datum": 595120}, "x2": {"datum": 595190}}},
                       {"mark": {"type": "text", "angle": 90, "color": "#ffffff", "fontSize": 7},
                        "encoding": {"x": {"datum": 595155}, "text": {"field": "t"}}}
                     ]}
                  ]
                }
              ]
            }
          ]
        }
      ],
      "spacing": 18
    }
  ],
  "spacing": 7
}
